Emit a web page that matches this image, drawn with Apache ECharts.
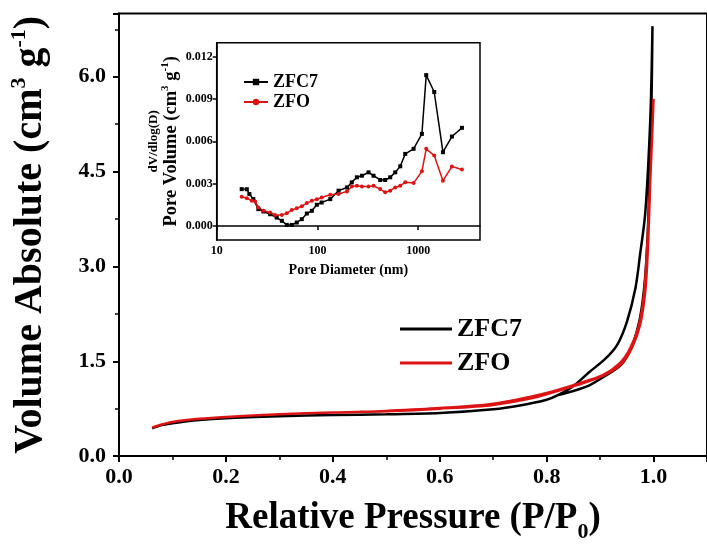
<!DOCTYPE html>
<html>
<head>
<meta charset="utf-8">
<script src="https://cdn.jsdelivr.net/npm/echarts@6/dist/echarts.min.js"></script>
<style>
  html, body { margin: 0; padding: 0; background: #fff; }
  #main { width: 707px; height: 548px; }
</style>
</head>
<body>
<div id="main"></div>
<script>
// main isotherm: shared low branch, steep left branch up to the top, right branch back down
const zfc7P = [0.062, 0.08, 0.1, 0.15, 0.2, 0.3, 0.4, 0.5, 0.6, 0.7, 0.75, 0.8, 0.82,
  0.849, 0.88, 0.91, 0.932, 0.95, 0.966, 0.975, 0.984, 0.99, 0.995, 0.998,
  0.996, 0.993, 0.989, 0.984, 0.975, 0.96, 0.94, 0.91, 0.88, 0.85, 0.82];
const zfc7V = [0.44, 0.49, 0.52, 0.57, 0.6, 0.63, 0.65, 0.66, 0.68, 0.74, 0.8, 0.89, 0.96,
  1.1, 1.33, 1.54, 1.76, 2.12, 2.65, 3.2, 3.8, 4.6, 5.6, 6.8,
  5.5, 4.5, 3.5, 2.8, 2.2, 1.75, 1.45, 1.27, 1.12, 1.03, 0.96];
const zfoP = [0.062, 0.08, 0.1, 0.15, 0.2, 0.3, 0.4, 0.5, 0.6, 0.7, 0.78, 0.82, 0.87, 0.91, 0.94, 0.96, 0.975, 0.985, 0.99, 0.994, 0.998, 1.0,
  0.997, 0.993, 0.988, 0.982, 0.972, 0.956, 0.937, 0.905, 0.86, 0.8, 0.7, 0.6, 0.5, 0.45];
const zfoV = [0.45, 0.5, 0.54, 0.59, 0.62, 0.66, 0.69, 0.71, 0.75, 0.81, 0.93, 1.03, 1.16, 1.29, 1.46, 1.72, 2.08, 2.65, 3.4, 4.4, 5.2, 5.65,
  5.0, 4.2, 3.3, 2.55, 2.05, 1.7, 1.47, 1.28, 1.15, 1.0, 0.83, 0.76, 0.715, 0.70];

// inset pore size distribution
const zfc7D = [17.7, 19.9, 21.1, 23.1, 25.9, 29.1, 33.9, 39.4, 44.3, 49.6, 55.6, 62.3, 69.9, 78.4, 87.9, 98.5, 110, 134, 162, 196, 219, 246, 276, 321, 360, 419, 470, 527, 591, 663, 743, 899, 1087, 1200, 1441, 1758, 2158, 2714];
const zfc7Dv = [0.00261, 0.0026, 0.00226, 0.0019, 0.00119, 0.00102, 0.00083, 0.00059, 0.00036, 0.00007, 0.00007, 0.00024, 0.00048, 0.00088, 0.00107, 0.0015, 0.00166, 0.0019, 0.0025, 0.00273, 0.00309, 0.00345, 0.00356, 0.0038, 0.00356, 0.00326, 0.00326, 0.00345, 0.0038, 0.00423, 0.00511, 0.00547, 0.00653, 0.0107, 0.0095, 0.00523, 0.00634, 0.00696];
const zfoD = [17.7, 19.9, 22.3, 24.1, 25.9, 29.1, 33.9, 37.9, 44.3, 49.6, 55.6, 62.3, 69.9, 78.4, 87.9, 98.5, 110, 134, 162, 196, 219, 246, 276, 321, 360, 419, 470, 527, 591, 663, 743, 899, 1087, 1200, 1441, 1758, 2158, 2714];
const zfoDv = [0.00207, 0.00197, 0.00178, 0.00173, 0.00131, 0.00107, 0.00095, 0.00078, 0.00078, 0.0009, 0.00112, 0.00126, 0.0014, 0.00162, 0.00178, 0.0019, 0.00202, 0.00221, 0.00226, 0.00245, 0.0028, 0.00285, 0.0028, 0.0028, 0.00285, 0.00261, 0.00238, 0.0025, 0.00273, 0.00285, 0.00309, 0.00304, 0.00387, 0.00547, 0.00499, 0.00321, 0.00421, 0.004];
const insetYTicks = [0, 0.003, 0.006, 0.009, 0.012];

const FONT = '"Liberation Serif", "Times New Roman", serif';
const RED = '#dc1414';

function pairs(xs, ys) {
  return xs.map((x, i) => [x, ys[i]]);
}

const bigText = { fontFamily: FONT, fontWeight: 'bold', color: '#000' };

const chart = echarts.init(document.getElementById('main'));
chart.setOption({
  backgroundColor: '#fff',
  animation: false,
  grid: [
    { left: 117, top: 13.5, right: -6, bottom: 90, show: true, borderColor: '#000', borderWidth: 2 },
    { left: 216.7, top: 42.7, right: 227, bottom: 308, show: true, borderColor: '#000', borderWidth: 1.5, backgroundColor: '#fff', z: 5 }
  ],
  legend: [
    {
      data: ['ZFC7', 'ZFO'],
      orient: 'vertical',
      left: 400,
      top: 316,
      padding: 0,
      icon: 'rect',
      itemWidth: 52,
      itemHeight: 3,
      itemGap: 8,
      textStyle: { ...bigText, fontSize: 26 }
    },
    {
      data: ['ZFC7 ', 'ZFO '],
      orient: 'vertical',
      left: 243,
      top: 73,
      padding: 0,
      z: 10,
      itemWidth: 24,
      itemHeight: 8,
      itemGap: 2,
      formatter: name => name.trim(),
      textStyle: { ...bigText, fontSize: 18, lineHeight: 18 }
    }
  ],
  xAxis: [
    {
      type: 'value', gridIndex: 0, min: 0, max: 1.1, interval: 0.2,
      name: '{a|Relative Pressure (P/P}{sub|0}{a|)}',
      nameLocation: 'middle', nameGap: 42,
      nameTextStyle: {
        rich: {
          a: { ...bigText, fontSize: 37, lineHeight: 36 },
          sub: { ...bigText, fontSize: 22, lineHeight: 22, padding: [28, 0, 0, 0] }
        }
      },
      axisLine: { lineStyle: { color: '#000', width: 2 } },
      axisTick: { inside: false, length: 6, lineStyle: { width: 2 } },
      minorTick: { show: true, splitNumber: 2, length: 4, lineStyle: { color: '#000', width: 1.5 } },
      axisLabel: { ...bigText, fontSize: 22, margin: 10, showMaxLabel: false, formatter: v => v.toFixed(1) },
      splitLine: { show: false }
    },
    {
      type: 'log', gridIndex: 1, min: 10, max: 4100, logBase: 10,
      name: 'Pore Diameter (nm)',
      nameLocation: 'middle', nameGap: 23,
      nameTextStyle: { ...bigText, fontSize: 14 },
      axisLine: { lineStyle: { color: '#000', width: 1.5 } },
      axisTick: { inside: false, length: 4, lineStyle: { width: 1.5 } },
      axisLabel: { ...bigText, fontSize: 12, margin: 5, showMaxLabel: false, formatter: v => String(Math.round(v)) },
      splitLine: { show: false },
      z: 6
    }
  ],
  yAxis: [
    {
      type: 'value', gridIndex: 0, min: 0, max: 7, interval: 1.5,
      name: '{a|Volume Absolute (cm}{sup|3}{a| g}{sup|-1}{a|)}',
      nameLocation: 'middle', nameGap: 69, nameRotate: 90,
      nameTextStyle: {
        rich: {
          a: { ...bigText, fontSize: 40, lineHeight: 38 },
          sup: { ...bigText, fontSize: 22, lineHeight: 22, padding: [0, 0, 24, 0] }
        }
      },
      axisLine: { lineStyle: { color: '#000', width: 2 } },
      axisTick: { inside: false, length: 6, lineStyle: { width: 2 } },
      minorTick: { show: true, splitNumber: 2, length: 4, lineStyle: { color: '#000', width: 1.5 } },
      axisLabel: { ...bigText, fontSize: 22, margin: 13, showMaxLabel: false, formatter: v => v.toFixed(1) },
      splitLine: { show: false }
    },
    {
      type: 'value', gridIndex: 1, min: -0.001, max: 0.013,
      name: '{b|dV/dlog(D)}\n{a|Pore Volume (cm}{sup|3}{a| g}{sup|-1}{a|)}',
      nameLocation: 'middle', nameGap: 37, nameRotate: 90,
      nameTextStyle: {
        rich: {
          b: { ...bigText, fontSize: 13, lineHeight: 18 },
          a: { ...bigText, fontSize: 18.5, lineHeight: 17 },
          sup: { ...bigText, fontSize: 11, lineHeight: 11, padding: [0, 0, 11, 0] }
        }
      },
      axisLine: { lineStyle: { color: '#000', width: 1.5 } },
      axisTick: { inside: false, length: 4, lineStyle: { width: 1.5 }, customValues: insetYTicks },
      axisLabel: { ...bigText, fontSize: 12, margin: 4, customValues: insetYTicks, formatter: v => v.toFixed(3) },
      splitLine: { show: false },
      z: 6
    }
  ],
  series: [
    {
      name: 'ZFC7', type: 'line', xAxisIndex: 0, yAxisIndex: 0,
      data: pairs(zfc7P, zfc7V), symbol: 'none', smooth: 0.3,
      lineStyle: { color: '#000', width: 2.5 }, itemStyle: { color: '#000' }
    },
    {
      name: 'ZFO', type: 'line', xAxisIndex: 0, yAxisIndex: 0,
      data: pairs(zfoP, zfoV), symbol: 'none', smooth: 0.3,
      lineStyle: { color: RED, width: 2.5 }, itemStyle: { color: RED }
    },
    {
      name: 'ZFC7 ', type: 'line', xAxisIndex: 1, yAxisIndex: 1, z: 7,
      data: pairs(zfc7D, zfc7Dv), symbol: 'rect', symbolSize: 4,
      lineStyle: { color: '#000', width: 1.5 }, itemStyle: { color: '#000' }
    },
    {
      name: 'ZFO ', type: 'line', xAxisIndex: 1, yAxisIndex: 1, z: 7,
      data: pairs(zfoD, zfoDv), symbol: 'circle', symbolSize: 4,
      lineStyle: { color: RED, width: 1.5 }, itemStyle: { color: RED }
    }
  ]
});
</script>
</body>
</html>
